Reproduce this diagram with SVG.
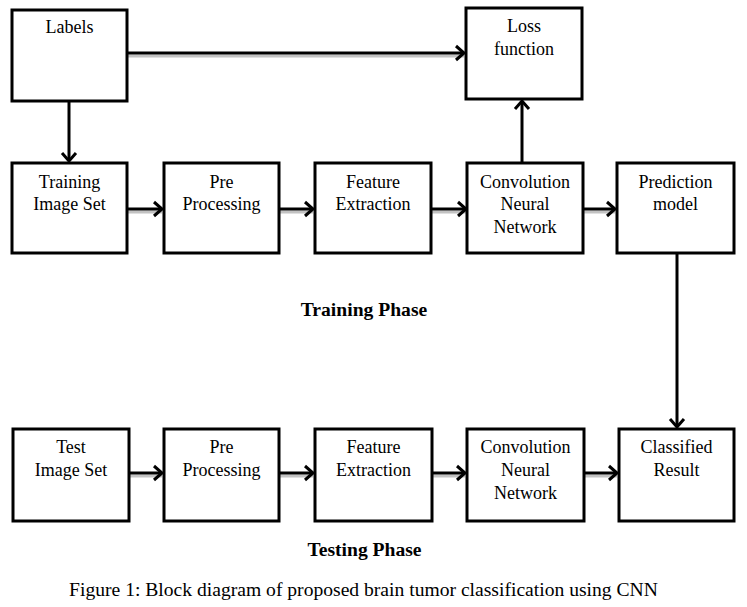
<svg xmlns="http://www.w3.org/2000/svg" width="747" height="607" viewBox="0 0 747 607">
<style>
.box{fill:#fff;stroke:#000;stroke-width:3}
.t{font-family:"Liberation Serif","Times New Roman",serif;font-size:18px;fill:#000;text-anchor:middle}
.b{font-weight:bold;font-size:19.6px}
.cap{font-size:19.6px}
.c{fill:none;stroke:#000;stroke-width:3}
.s{fill:none;stroke:#999;stroke-width:3;opacity:0.6}
</style>
<defs>
<marker id="ah" markerUnits="userSpaceOnUse" viewBox="-10 -10 20 20" markerWidth="20" markerHeight="20" refX="0" refY="0" orient="auto">
<path d="M-8,-7 L0,0 L-8,7" fill="none" stroke="#000" stroke-width="3"/>
</marker>
</defs>
<rect width="747" height="607" fill="#fff"/>
<g id="connectors">
<g class="shadows">
<path class="s" d="M128,56 H464"/>
<path class="s" d="M128,212 H162"/>
<path class="s" d="M280,212 H313"/>
<path class="s" d="M432,212 H466"/>
<path class="s" d="M584,212 H615"/>
<path class="s" d="M130,476 H162"/>
<path class="s" d="M280,476 H313"/>
<path class="s" d="M433,476 H465"/>
<path class="s" d="M585,476 H617"/>
</g>
<path class="c" d="M128,53 H464" marker-end="url(#ah)"/>
<path class="c" d="M69,101 V161" marker-end="url(#ah)"/>
<path class="c" d="M522,162 V101" marker-end="url(#ah)"/>
<path class="c" d="M677,254 V427" marker-end="url(#ah)"/>
<path class="c" d="M128,209 H162" marker-end="url(#ah)"/>
<path class="c" d="M280,209 H313" marker-end="url(#ah)"/>
<path class="c" d="M432,209 H466" marker-end="url(#ah)"/>
<path class="c" d="M584,209 H615" marker-end="url(#ah)"/>
<path class="c" d="M130,473 H162" marker-end="url(#ah)"/>
<path class="c" d="M280,473 H313" marker-end="url(#ah)"/>
<path class="c" d="M433,473 H465" marker-end="url(#ah)"/>
<path class="c" d="M585,473 H617" marker-end="url(#ah)"/>
</g>
<g id="labels"><rect class="box" x="12" y="10" width="115" height="91"/><text class="t" x="69.5" y="33">Labels</text></g>
<g id="loss"><rect class="box" x="466" y="8" width="116" height="91"/><text class="t" x="524" y="32">Loss</text><text class="t" x="524" y="55">function</text></g>
<g id="train-set"><rect class="box" x="12" y="163" width="115" height="90"/><text class="t" x="69.5" y="188">Training</text><text class="t" x="69.5" y="210">Image Set</text></g>
<g id="train-pre"><rect class="box" x="164" y="163" width="115" height="90"/><text class="t" x="221.5" y="188">Pre</text><text class="t" x="221.5" y="210">Processing</text></g>
<g id="train-feat"><rect class="box" x="315" y="163" width="116" height="90"/><text class="t" x="373" y="188">Feature</text><text class="t" x="373" y="210">Extraction</text></g>
<g id="train-cnn"><rect class="box" x="467" y="163" width="116" height="90"/><text class="t" x="525" y="188">Convolution</text><text class="t" x="525" y="210">Neural</text><text class="t" x="525" y="233">Network</text></g>
<g id="prediction"><rect class="box" x="617" y="163" width="117" height="90"/><text class="t" x="675.5" y="188">Prediction</text><text class="t" x="675.5" y="210">model</text></g>
<g id="test-set"><rect class="box" x="13" y="429" width="116" height="92"/><text class="t" x="71" y="453">Test</text><text class="t" x="71" y="476">Image Set</text></g>
<g id="test-pre"><rect class="box" x="164" y="429" width="115" height="92"/><text class="t" x="221.5" y="453">Pre</text><text class="t" x="221.5" y="476">Processing</text></g>
<g id="test-feat"><rect class="box" x="315" y="429" width="117" height="92"/><text class="t" x="373.5" y="453">Feature</text><text class="t" x="373.5" y="476">Extraction</text></g>
<g id="test-cnn"><rect class="box" x="467" y="429" width="117" height="92"/><text class="t" x="525.5" y="453">Convolution</text><text class="t" x="525.5" y="476">Neural</text><text class="t" x="525.5" y="499">Network</text></g>
<g id="classified"><rect class="box" x="619" y="429" width="115" height="92"/><text class="t" x="676.5" y="453">Classified</text><text class="t" x="676.5" y="476">Result</text></g>
<text class="t b" x="364" y="316">Training Phase</text>
<text class="t b" x="364.5" y="556">Testing Phase</text>
<text class="t cap" x="363.5" y="596">Figure 1: Block diagram of proposed brain tumor classification using CNN</text>
</svg>
